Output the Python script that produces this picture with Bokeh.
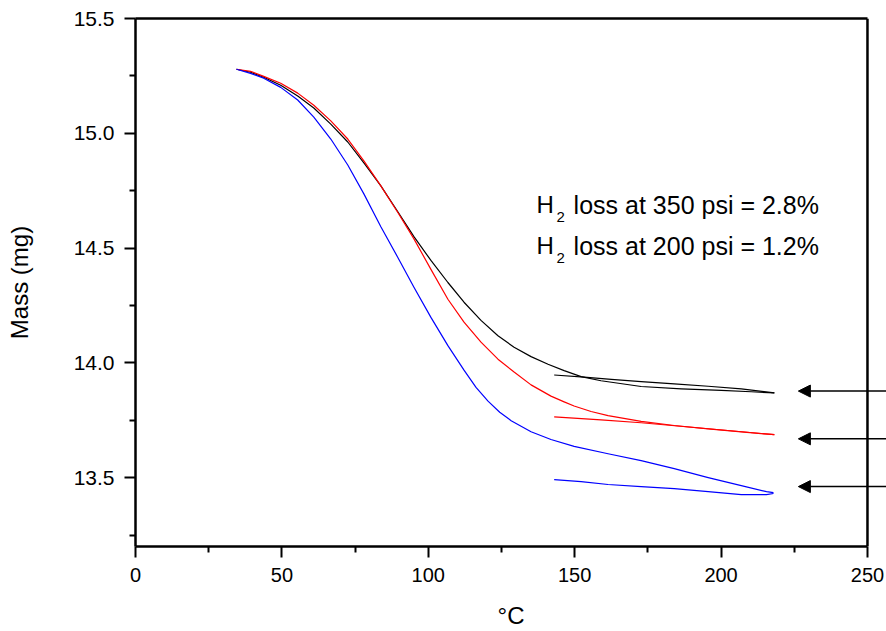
from bokeh.plotting import figure
from bokeh.models import (Range1d, FixedTicker, Arrow, NormalHead, Label, ColumnDataSource,
                          PrintfTickFormatter, LinearAxis, Span)
from bokeh.embed import file_html
from bokeh.resources import INLINE

# ---- data ----
black_heat_x = [34.5, 39.3, 43.8, 49.6, 55.4, 60.9, 66.7, 72.5, 78.0, 83.8, 89.6, 95.1, 100.9, 106.7,
                112.2, 118.0, 123.8, 129.3, 135.1, 140.9, 146.4, 152.2, 159.0, 172.7, 186.4, 200.1, 210.3, 218.2]
black_heat_y = [15.279, 15.266, 15.244, 15.209, 15.162, 15.110, 15.040, 14.962, 14.871, 14.771, 14.658, 14.550,
                14.446, 14.350, 14.264, 14.185, 14.118, 14.068, 14.027, 13.994, 13.966, 13.940, 13.922, 13.897,
                13.887, 13.880, 13.874, 13.869]
black_cool_x = [218.2, 206.9, 195.6, 184.0, 172.7, 162.5, 153.2, 143.0]
black_cool_y = [13.869, 13.887, 13.898, 13.908, 13.918, 13.928, 13.938, 13.947]

red_heat_x = [34.5, 39.3, 43.8, 49.6, 55.4, 60.9, 66.7, 72.5, 78.0, 83.8, 89.6, 95.1, 100.9, 106.7, 112.2,
              118.0, 123.8, 129.3, 135.1, 141.9, 146.4, 149.8, 155.6, 161.4, 172.7, 184.0, 195.6, 206.9, 218.2]
red_heat_y = [15.279, 15.270, 15.248, 15.218, 15.175, 15.122, 15.054, 14.975, 14.880, 14.771, 14.655, 14.540,
              14.407, 14.277, 14.177, 14.090, 14.016, 13.960, 13.904, 13.855, 13.830, 13.812, 13.788, 13.770,
              13.745, 13.727, 13.712, 13.699, 13.687]
red_cool_x = [218.2, 195.6, 172.7, 159.0, 143.0]
red_cool_y = [13.687, 13.713, 13.739, 13.752, 13.765]

blue_heat_x = [34.5, 39.3, 43.8, 49.6, 55.4, 60.9, 66.7, 72.5, 78.0, 83.8, 89.6, 95.1, 100.9, 106.7, 112.2,
               116.3, 120.4, 124.4, 128.3, 135.1, 141.9, 149.8, 161.4, 172.7, 184.0, 195.6, 206.9, 215.5, 217.9]
blue_heat_y = [15.279, 15.261, 15.240, 15.200, 15.145, 15.070, 14.975, 14.862, 14.736, 14.593, 14.459, 14.329,
               14.198, 14.075, 13.968, 13.893, 13.833, 13.785, 13.748, 13.700, 13.666, 13.636, 13.604, 13.574,
               13.539, 13.500, 13.465, 13.439, 13.435]
blue_cool_x = [217.9, 215.5, 206.9, 195.6, 184.0, 172.7, 161.4, 152.2, 143.0]
blue_cool_y = [13.431, 13.426, 13.426, 13.439, 13.452, 13.461, 13.470, 13.483, 13.491]

arrow_y = [13.877, 13.669, 13.461]
arrow_tip_x = [226.4, 226.4, 226.4]
arrow_tail_x = [256.5, 256.5, 256.5]

x_ticks = [0, 50, 100, 150, 200, 250]
x_minor = [25, 75, 125, 175, 225]
y_ticks = [13.5, 14.0, 14.5, 15.0, 15.5]
y_minor = [13.25, 13.75, 14.25, 14.75, 15.25]

note_pressures = ["350", "200"]
note_losses = ["2.8%", "1.2%"]
note_y = [14.689, 14.511]
note_x = 137.0

FONT = "Liberation Sans"
X_MAX = 250
X_VIEW_END = 256.5   # frame runs to the window edge so the arrows reach it

p = figure(width=886, height=631, output_backend="svg", toolbar_location=None,
           x_range=Range1d(0, X_VIEW_END), y_range=Range1d(13.2, 15.5),
           min_border_left=135, min_border_right=0, min_border_top=18, min_border_bottom=83)
p.background_fill_color = "white"
p.border_fill_color = "white"
p.grid.visible = False
p.outline_line_color = None

for ax in (p.xaxis[0], p.yaxis[0]):
    ax.axis_line_width = 2.5
    ax.major_tick_line_width = 2
    ax.minor_tick_line_width = 2
    ax.major_tick_in = 0
    ax.minor_tick_in = 0
    ax.major_tick_out = 11
    ax.minor_tick_out = 6
    ax.major_label_text_font = FONT
    ax.major_label_text_color = "black"
    ax.axis_label_text_font = FONT
    ax.axis_label_text_font_style = "normal"
    ax.axis_label_text_color = "black"

p.xaxis.bounds = (0, X_MAX)
p.xaxis.ticker = FixedTicker(ticks=x_ticks, minor_ticks=x_minor)
p.yaxis.ticker = FixedTicker(ticks=y_ticks, minor_ticks=y_minor)
p.yaxis.formatter = PrintfTickFormatter(format="%.1f")
p.xaxis.major_label_text_font_size = "20px"
p.yaxis.major_label_text_font_size = "21px"
p.xaxis.major_label_standoff = 10
p.yaxis.major_label_standoff = 10
p.xaxis.axis_label = "°C"
p.yaxis.axis_label = "Mass (mg)"
p.xaxis.axis_label_text_font_size = "24px"
p.yaxis.axis_label_text_font_size = "24px"
p.xaxis.axis_label_standoff = 17
p.yaxis.axis_label_standoff = 38

# top border (no ticks) and right border of the box
top_axis = LinearAxis(ticker=FixedTicker(ticks=[]), bounds=(0, X_MAX), axis_line_width=2.5,
                      major_tick_in=0, major_tick_out=0, minor_tick_in=0, minor_tick_out=0,
                      major_label_text_font_size="0px")
p.add_layout(top_axis, "above")
p.add_layout(Span(location=X_MAX, dimension="height", line_color="black", line_width=2.5))

lw = 1.2
for xs, ys, c in [(black_heat_x, black_heat_y, "black"), (black_cool_x, black_cool_y, "black"),
                  (red_heat_x, red_heat_y, "#ff0000"), (red_cool_x, red_cool_y, "#ff0000"),
                  (blue_heat_x, blue_heat_y, "#0000ff"), (blue_cool_x, blue_cool_y, "#0000ff")]:
    p.line(xs, ys, line_color=c, line_width=lw, line_join="round")

asrc = ColumnDataSource(dict(xs=arrow_tail_x, xe=arrow_tip_x, y=arrow_y))
p.add_layout(Arrow(end=NormalHead(size=12, fill_color="black", line_color="black", line_width=1),
                   x_start="xs", y_start="y", x_end="xe", y_end="y", source=asrc,
                   line_color="black", line_width=1.5))

for pr, loss, yy in zip(note_pressures, note_losses, note_y):
    p.add_layout(Label(x=note_x, y=yy, text="H", text_font=FONT, text_font_size="24px",
                       text_baseline="alphabetic", text_color="black"))
    p.add_layout(Label(x=note_x, y=yy, x_offset=20, y_offset=-12, text="2", text_font=FONT,
                       text_font_size="15px", text_baseline="alphabetic", text_color="black"))
    p.add_layout(Label(x=note_x, y=yy, x_offset=37, text=f"loss at {pr} psi = {loss}", text_font=FONT,
                       text_font_size="25px", text_baseline="alphabetic", text_color="black"))

open("out.html", "w").write(file_html(p, INLINE))
